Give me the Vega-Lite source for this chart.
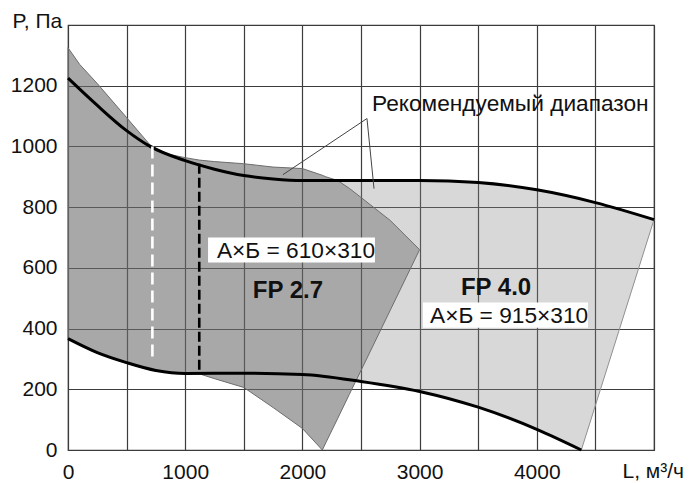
{
  "$schema": "https://vega.github.io/schema/vega-lite/v6.json",
  "width": 586,
  "height": 425,
  "autosize": {"type": "none"},
  "padding": {"left": 68, "top": 25, "right": 45, "bottom": 33},
  "background": "white",
  "config": {
    "view": {"stroke": "#3c3c3c", "strokeWidth": 1.2},
    "font": "Liberation Sans",
    "axis": {
      "grid": true,
      "gridColor": "#3c3c3c",
      "gridWidth": 1.2,
      "gridOpacity": 1,
      "domain": false,
      "ticks": false,
      "zindex": 0,
      "labelFont": "Liberation Sans",
      "labelFontSize": 21,
      "labelColor": "#111",
      "labelPadding": 11,
      "titleFont": "Liberation Sans",
      "titleFontSize": 21,
      "titleFontWeight": "normal",
      "titleColor": "#111"
    }
  },
  "datasets": {
    "fp27": [
      {"L": 0, "P": 1325, "P2": 365},
      {"L": 100, "P": 1270, "P2": 346},
      {"L": 250, "P": 1207, "P2": 319},
      {"L": 500, "P": 1095, "P2": 285},
      {"L": 700, "P": 1005, "P2": 264},
      {"L": 850, "P": 975, "P2": 256},
      {"L": 1000, "P": 963, "P2": 252},
      {"L": 1120, "P": 955, "P2": 251},
      {"L": 1250, "P": 950, "P2": 235},
      {"L": 1500, "P": 943, "P2": 206},
      {"L": 1750, "P": 932, "P2": 140},
      {"L": 2000, "P": 927, "P2": 71},
      {"L": 2170, "P": 905, "P2": 0},
      {"L": 2200, "P": 900, "P2": 24},
      {"L": 2300, "P": 888, "P2": 103},
      {"L": 2400, "P": 862, "P2": 183},
      {"L": 2500, "P": 832, "P2": 262},
      {"L": 2750, "P": 756, "P2": 461},
      {"L": 3000, "P": 660, "P2": 660}
    ],
    "range": [
      {"L": 0, "P": 1325, "P2": 365},
      {"L": 100, "P": 1270, "P2": 346},
      {"L": 250, "P": 1207, "P2": 319},
      {"L": 500, "P": 1095, "P2": 285},
      {"L": 700, "P": 1005, "P2": 264},
      {"L": 850, "P": 975, "P2": 256},
      {"L": 1000, "P": 963, "P2": 252},
      {"L": 1120, "P": 955, "P2": 251},
      {"L": 1250, "P": 950, "P2": 235},
      {"L": 1500, "P": 943, "P2": 206},
      {"L": 1750, "P": 932, "P2": 140},
      {"L": 2000, "P": 927, "P2": 71},
      {"L": 2170, "P": 905, "P2": 0},
      {"L": 2200, "P": 900, "P2": 24},
      {"L": 2300, "P": 888, "P2": 103},
      {"L": 2400, "P": 888, "P2": 183},
      {"L": 2455, "P": 888, "P2": 228},
      {"L": 2500, "P": 888, "P2": 226},
      {"L": 2750, "P": 888, "P2": 210},
      {"L": 3000, "P": 888, "P2": 193},
      {"L": 3250, "P": 886, "P2": 168},
      {"L": 3500, "P": 881, "P2": 141},
      {"L": 3750, "P": 870, "P2": 106},
      {"L": 4000, "P": 857, "P2": 68},
      {"L": 4200, "P": 841, "P2": 35},
      {"L": 4380, "P": 826, "P2": 0},
      {"L": 4500, "P": 815, "P2": 147},
      {"L": 4750, "P": 789, "P2": 453},
      {"L": 5000, "P": 759, "P2": 759}
    ],
    "curves": [
      {"c": "upper", "L": 0, "P": 1225},
      {"c": "upper", "L": 250, "P": 1135},
      {"c": "upper", "L": 500, "P": 1052},
      {"c": "upper", "L": 700, "P": 1000},
      {"c": "upper", "L": 1000, "P": 953},
      {"c": "upper", "L": 1250, "P": 925},
      {"c": "upper", "L": 1500, "P": 904},
      {"c": "upper", "L": 1750, "P": 893},
      {"c": "upper", "L": 2000, "P": 888},
      {"c": "upper", "L": 2500, "P": 888},
      {"c": "upper", "L": 3000, "P": 888},
      {"c": "upper", "L": 3500, "P": 881},
      {"c": "upper", "L": 4000, "P": 857},
      {"c": "upper", "L": 4500, "P": 815},
      {"c": "upper", "L": 5000, "P": 759},
      {"c": "lower", "L": 0, "P": 367},
      {"c": "lower", "L": 250, "P": 321},
      {"c": "lower", "L": 500, "P": 288},
      {"c": "lower", "L": 750, "P": 262},
      {"c": "lower", "L": 1000, "P": 252},
      {"c": "lower", "L": 1500, "P": 253},
      {"c": "lower", "L": 2000, "P": 249},
      {"c": "lower", "L": 2500, "P": 226},
      {"c": "lower", "L": 3000, "P": 193},
      {"c": "lower", "L": 3500, "P": 141},
      {"c": "lower", "L": 4000, "P": 68},
      {"c": "lower", "L": 4380, "P": 0}
    ]
  },
  "encoding": {
    "x": {
      "field": "L", "type": "quantitative",
      "scale": {"domain": [0, 5000], "nice": false, "zero": true},
      "axis": {
        "values": [0, 500, 1000, 1500, 2000, 2500, 3000, 3500, 4000, 4500, 5000],
        "format": "d",
        "labelExpr": "datum.value % 1000 === 0 && datum.value < 5000 ? datum.label : ''",
        "labelFlush": false,
        "labelOverlap": false,
        "title": "L, м³/ч",
        "titleAnchor": "start",
        "titleAlign": "left",
        "titleBaseline": "alphabetic",
        "titleX": 554,
        "titleY": 27
      }
    },
    "y": {
      "field": "P", "type": "quantitative",
      "scale": {"domain": [0, 1400], "nice": false},
      "axis": {
        "values": [0, 200, 400, 600, 800, 1000, 1200, 1400],
        "format": "d",
        "labelExpr": "datum.value < 1400 ? datum.label : ''",
        "labelOverlap": false,
        "labelFlush": false,
        "title": "P, Па",
        "titleAngle": 0,
        "titleAlign": "left",
        "titleBaseline": "alphabetic",
        "titleX": -56,
        "titleY": 2
      }
    }
  },
  "layer": [
    {
      "data": {"name": "range"},
      "mark": {"type": "area", "color": "#888888", "opacity": 0.328},
      "encoding": {"y2": {"field": "P2"}}
    },
    {
      "data": {"name": "fp27"},
      "mark": {"type": "area", "color": "#616161", "opacity": 0.405},
      "encoding": {"y2": {"field": "P2"}}
    },
    {
      "data": {"name": "fp27"},
      "mark": {"type": "area", "fill": null, "fillOpacity": 0, "stroke": "#6e6e6e", "strokeWidth": 1},
      "encoding": {"y2": {"field": "P2"}}
    },
    {
      "data": {"values": [
        {"L": 4380, "P": 0},
        {"L": 5000, "P": 759}
      ]},
      "mark": {"type": "line", "color": "#909090", "strokeWidth": 1},
      "encoding": {}
    },
    {
      "data": {"name": "curves"},
      "mark": {"type": "line", "color": "#000", "strokeWidth": 3, "interpolate": "monotone"},
      "encoding": {"detail": {"field": "c"}}
    },
    {
      "data": {"values": [{"L": 720, "P": 1000, "P2": 300}]},
      "mark": {"type": "rule", "color": "#ffffff", "strokeWidth": 2.6, "strokeDash": [12, 6]},
      "encoding": {"y2": {"field": "P2"}}
    },
    {
      "data": {"values": [{"L": 1120, "P": 943, "P2": 255}]},
      "mark": {"type": "rule", "color": "#000000", "strokeWidth": 2.6, "strokeDash": [10, 4]},
      "encoding": {"y2": {"field": "P2"}}
    },
    {
      "data": {"values": [
        {"L": 2551, "P": 1092, "L2": 1834, "P2": 907},
        {"L": 2551, "P": 1092, "L2": 2611, "P2": 861}
      ]},
      "mark": {"type": "rule", "color": "#444", "strokeWidth": 1},
      "encoding": {"x2": {"field": "L2"}, "y2": {"field": "P2"}}
    },
    {
      "data": {"values": [
        {"L": 1195, "L2": 2619, "P": 618, "P2": 700},
        {"L": 3029, "L2": 4437, "P": 403, "P2": 486}
      ]},
      "mark": {"type": "rect", "fill": "#ffffff"},
      "encoding": {"x2": {"field": "L2"}, "y2": {"field": "P2"}}
    },
    {
      "data": {"values": [
        {"L": 2594, "P": 1118, "t": "Рекомендуемый диапазон"},
        {"L": 1271, "P": 631, "t": "А×Б = 610×310"},
        {"L": 3089, "P": 417, "t": "А×Б = 915×310"}
      ]},
      "mark": {"type": "text", "align": "left", "baseline": "alphabetic", "fontSize": 22.7, "font": "Liberation Sans", "color": "#111"},
      "encoding": {"text": {"field": "t"}}
    },
    {
      "data": {"values": [
        {"L": 1877, "P": 502, "t": "FP 2.7"},
        {"L": 3652, "P": 512, "t": "FP 4.0"}
      ]},
      "mark": {"type": "text", "align": "center", "baseline": "alphabetic", "fontSize": 24, "fontWeight": "bold", "font": "Liberation Sans", "color": "#111"},
      "encoding": {"text": {"field": "t"}}
    }
  ]
}
